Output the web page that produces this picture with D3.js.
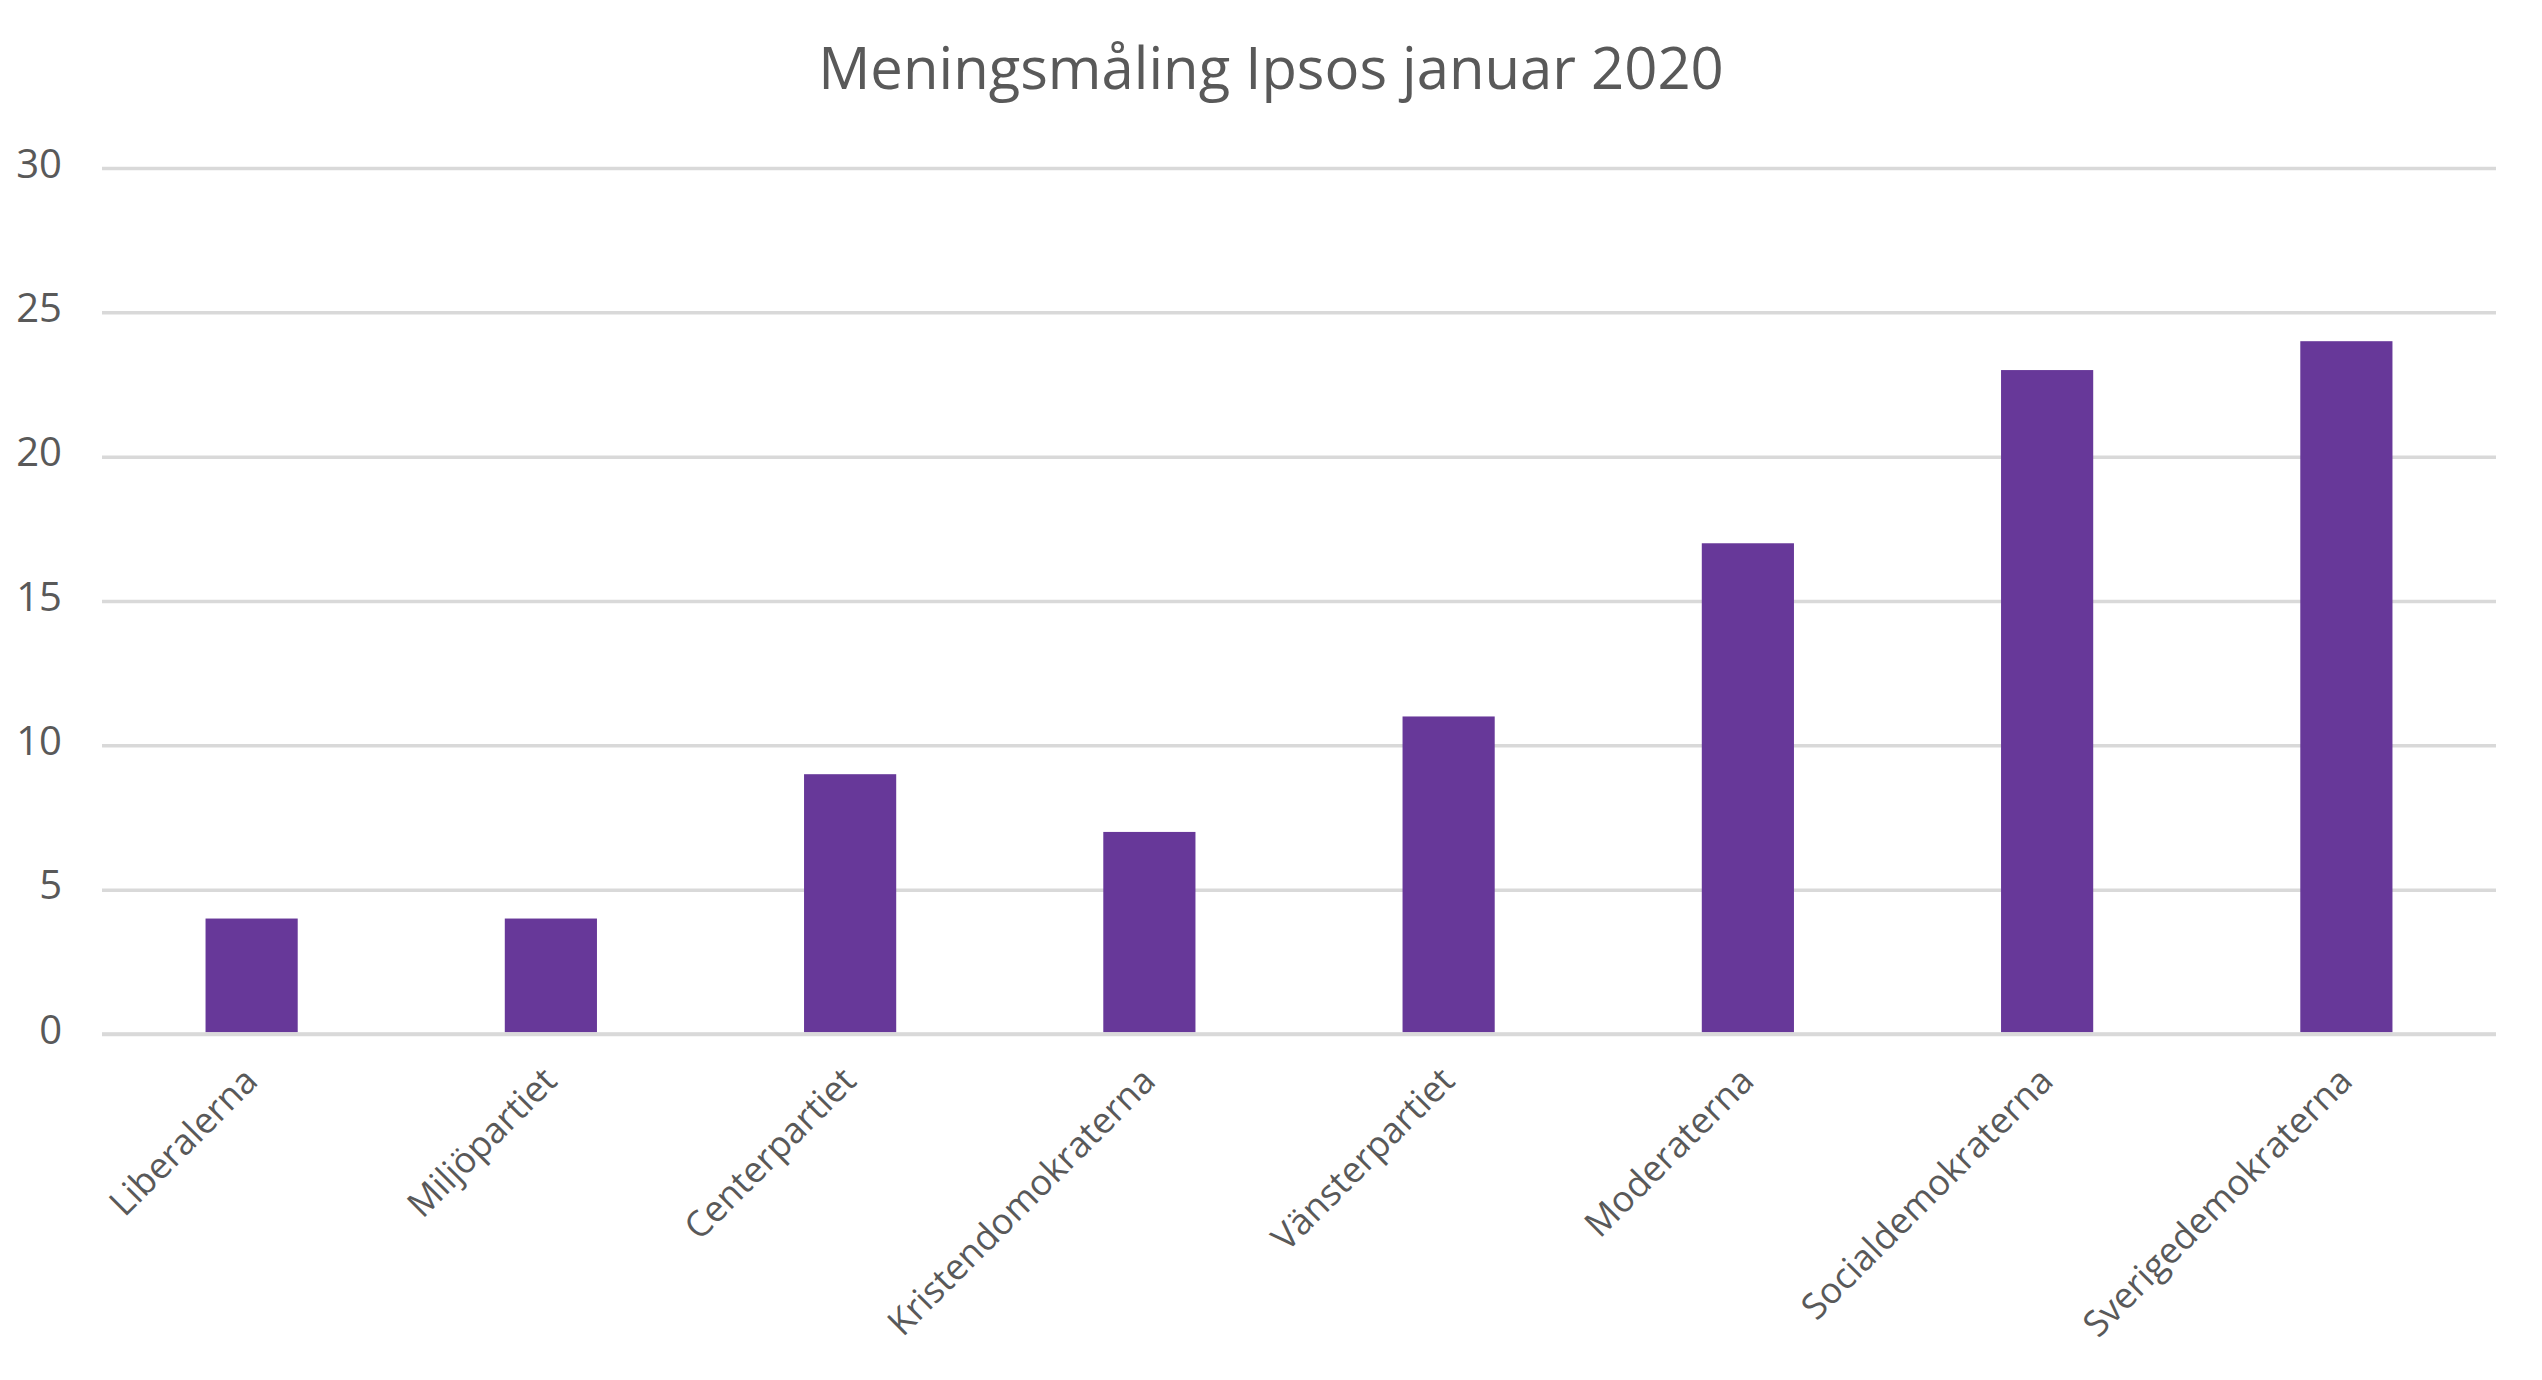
<!DOCTYPE html>
<html>
<head>
<meta charset="utf-8">
<script src="https://cdn.jsdelivr.net/npm/d3@7"></script>
<style>
    body { margin: 0; background: #fff; }
    svg { display: block; font-family: "Open Sans", sans-serif; }
</style>
</head>
<body>
<svg id="chart" width="2542" height="1380"></svg>
<script>
"use strict";

// Data
const partier = ["Liberalerna", "Miljöpartiet", "Centerpartiet", "Kristendomokraterna",
    "Vänsterpartiet", "Moderaterna", "Socialdemokraterna", "Sverigedemokraterna"];
const oppslutning = [4, 4, 9, 7, 11, 17, 23, 24];
const yTicks = [0, 5, 10, 15, 20, 25, 30];
const tittel = "Meningsmåling Ipsos januar 2020";

const W = 2542, H = 1380;
const plot = { left: 102, right: 2496, top: 168, bottom: 1034 };
const tekstfarge = "#595959";

const svg = d3.select("#chart");

const x = d3.scaleBand()
    .domain(partier)
    .range([plot.left, plot.right])
    .paddingInner(0.692)
    .paddingOuter(0.346);

const y = d3.scaleLinear()
    .domain([0, 30])
    .range([plot.bottom, plot.top]);

// Tittel
svg.append("text")
    .attr("x", W / 2)
    .attr("y", 89)
    .attr("text-anchor", "middle")
    .style("font-size", "58px")
    .style("fill", tekstfarge)
    .text(tittel);

// Rutenett og y-akse
const yAkse = svg.append("g")
    .attr("transform", `translate(${plot.left},0)`)
    .call(d3.axisLeft(y).tickValues(yTicks).tickSize(-(plot.right - plot.left)).tickPadding(40));
yAkse.select(".domain").remove();
yAkse.selectAll(".tick line")
    .attr("stroke", "#d9d9d9")
    .attr("stroke-width", 3.5);
yAkse.selectAll(".tick text")
    .attr("dy", "9")
    .style("dominant-baseline", "alphabetic")
    .style("font-size", "40px")
    .style("font-family", "'Open Sans', sans-serif")
    .style("fill", tekstfarge);

// Søyler
svg.append("g")
    .selectAll("rect")
    .data(oppslutning)
    .enter().append("rect")
    .attr("x", (d, i) => x(partier[i]))
    .attr("y", (d) => y(d))
    .attr("width", x.bandwidth())
    .attr("height", (d) => y(0) - y(d) - 1.7)
    .style("fill", "#673899");

// Nullinje over søylene
svg.append("line")
    .attr("x1", plot.left).attr("x2", plot.right)
    .attr("y1", y(0)).attr("y2", y(0))
    .attr("stroke", "#d9d9d9")
    .attr("stroke-width", 3.5);

// Kategorietiketter, rotert 45 grader
const xAkse = svg.append("g")
    .attr("transform", `translate(0,${plot.bottom})`)
    .call(d3.axisBottom(x).tickSize(0));
xAkse.select(".domain").remove();
xAkse.selectAll(".tick text")
    .attr("transform", "translate(8,49) rotate(-45)")
    .attr("x", 0)
    .attr("y", 0)
    .attr("dy", 0)
    .attr("text-anchor", "end")
    .style("font-size", "36px")
    .style("font-family", "'Open Sans', sans-serif")
    .style("fill", tekstfarge);
</script>
</body>
</html>
